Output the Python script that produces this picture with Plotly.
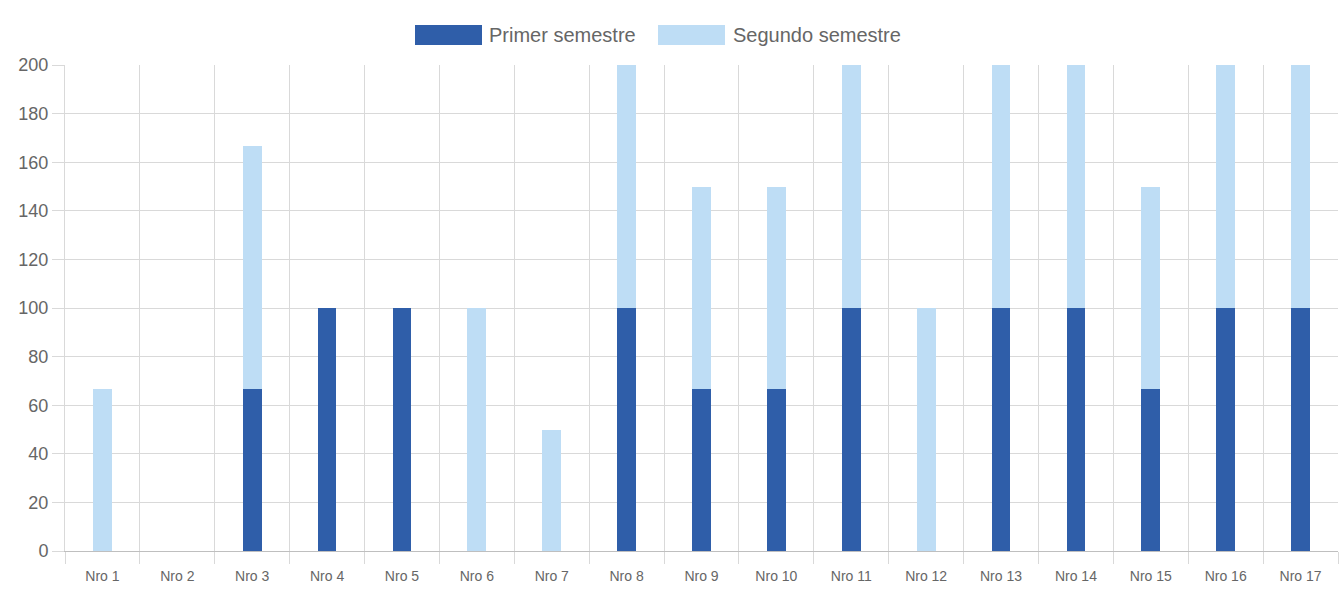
import plotly.graph_objects as go

categories = [f"Nro {i}" for i in range(1, 18)]
primer = [0, 0, 66.67, 100, 100, 0, 0, 100, 66.67, 66.67, 100, 0, 100, 100, 66.67, 100, 100]
segundo = [66.67, 0, 100, 0, 0, 100, 50, 100, 83.33, 83.33, 100, 100, 100, 100, 83.33, 100, 100]
y_ticks = list(range(0, 201, 20))

c_primer = "#2F5EA9"
c_segundo = "#BEDDF5"

fig = go.Figure()
fig.add_trace(go.Bar(x=categories, y=primer, name="Primer semestre", marker_color=c_primer,
                     marker_line_width=0, width=0.25, showlegend=False))
fig.add_trace(go.Bar(x=categories, y=segundo, name="Segundo semestre", marker_color=c_segundo,
                     marker_line_width=0, width=0.25, showlegend=False))

W, H = 1342, 596
L, R, T, B = 65, 4, 65, 45
PW, PH = W - L - R, H - T - B

def pxx(x):
    return (x - L) / PW

def pyy(y):
    return (H - B - y) / PH

fig.update_layout(
    barmode="stack",
    width=W, height=H,
    margin=dict(l=L, r=R, t=T, b=B, autoexpand=False),
    plot_bgcolor="white", paper_bgcolor="white",
    font=dict(family="Liberation Sans, Arial, sans-serif", color="#666666"),
    xaxis=dict(
        type="category", tickson="boundaries", showgrid=True, gridcolor="#D9D9D9", gridwidth=1,
        ticks="outside", ticklen=12, tickcolor="#D9D9D9", tickfont=dict(size=14, color="#666666"),
        ticklabelstandoff=12,
        showline=True, linecolor="#BFBFBF", zeroline=False, automargin=False,
    ),
    yaxis=dict(
        range=[0, 200], tickvals=y_ticks, showgrid=True, gridcolor="#D9D9D9", gridwidth=1,
        ticks="outside", ticklen=12, tickcolor="#D9D9D9", tickfont=dict(size=18, color="#666666"),
        zeroline=False, showline=True, linecolor="#D9D9D9", automargin=False,
    ),
    shapes=[
        dict(type="rect", xref="paper", yref="paper",
             x0=pxx(415), x1=pxx(482), y0=pyy(45), y1=pyy(25),
             fillcolor=c_primer, line_width=0),
        dict(type="rect", xref="paper", yref="paper",
             x0=pxx(658), x1=pxx(725), y0=pyy(45), y1=pyy(25),
             fillcolor=c_segundo, line_width=0),
    ],
    annotations=[
        dict(text="Primer semestre", xref="paper", yref="paper",
             x=pxx(487), y=pyy(35), xanchor="left", yanchor="middle", showarrow=False,
             font=dict(size=20, color="#666666")),
        dict(text="Segundo semestre", xref="paper", yref="paper",
             x=pxx(731), y=pyy(35), xanchor="left", yanchor="middle", showarrow=False,
             font=dict(size=20, color="#666666")),
    ],
)

fig.write_html("out.html", config={"displayModeBar": False},
               post_script="document.body.style.margin='0';document.body.style.overflow='hidden';")
